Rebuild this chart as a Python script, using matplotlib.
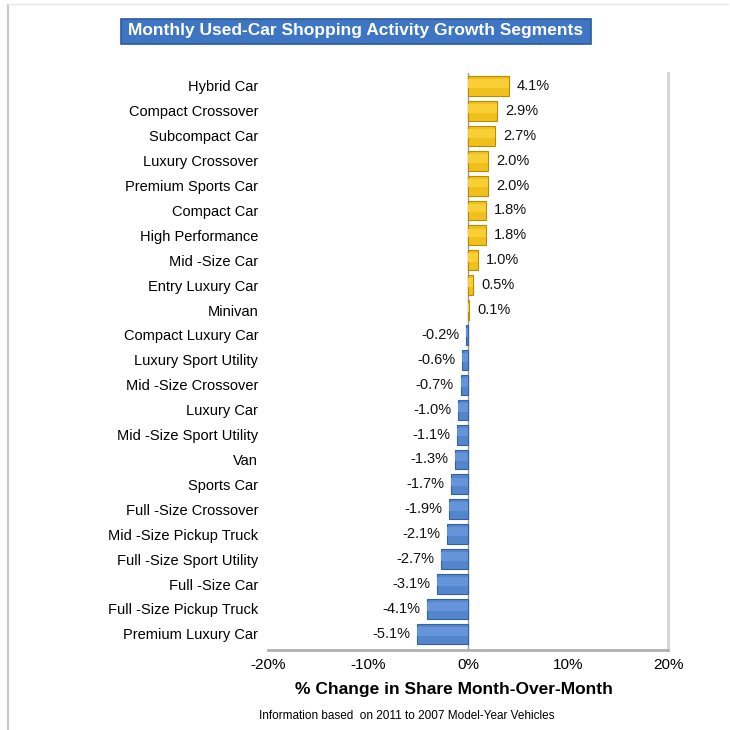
import matplotlib.pyplot as plt
from matplotlib.patches import FancyBboxPatch
from matplotlib.lines import Line2D

plt.rcParams['font.family'] = ['Liberation Sans', 'DejaVu Sans']

segments = ["Hybrid Car", "Compact Crossover", "Subcompact Car", "Luxury Crossover",
            "Premium Sports Car", "Compact Car", "High Performance", "Mid -Size Car",
            "Entry Luxury Car", "Minivan", "Compact Luxury Car", "Luxury Sport Utility",
            "Mid -Size Crossover", "Luxury Car", "Mid -Size Sport Utility", "Van",
            "Sports Car", "Full -Size Crossover", "Mid -Size Pickup Truck",
            "Full -Size Sport Utility", "Full -Size Car", "Full -Size Pickup Truck",
            "Premium Luxury Car"]
change = [4.1, 2.9, 2.7, 2.0, 2.0, 1.8, 1.8, 1.0, 0.5, 0.1, -0.2, -0.6, -0.7,
          -1.0, -1.1, -1.3, -1.7, -1.9, -2.1, -2.7, -3.1, -4.1, -5.1]
xticks = [-20, -10, 0, 10, 20]

fig = plt.figure(figsize=(7.3, 7.3), dpi=100)
ax = fig.add_axes([268/730, 80/730, 400/730, 577/730])

ypos = list(range(len(segments)))
colors = ["#F2C01C" if v >= 0 else "#5486CE" for v in change]
edges = ["#B88E00" if v >= 0 else "#35609F" for v in change]
ax.barh(ypos, change, height=0.8, color=colors, edgecolor=edges, linewidth=0.8, zorder=3)
# lighter band on the upper half, a cheap stand-in for the gradient
hl = ["#F8CF34" if v >= 0 else "#6595D8" for v in change]
ax.barh([y - 0.1 for y in ypos], change, height=0.35, color=hl, linewidth=0, zorder=4)

for y, v in zip(ypos, change):
    if v >= 0:
        ax.text(v + 0.8, y, f"{v:.1f}%", va="center", ha="left", fontsize=10.5, color="#111111")
    else:
        ax.text(v - 0.7, y, f"{v:.1f}%", va="center", ha="right", fontsize=10.5, color="#111111")

ax.set_xlim(-20, 20)
ax.set_ylim(22.65, -0.52)
ax.set_yticks(ypos)
ax.set_yticklabels(segments, fontsize=10.5)
ax.set_xticks(xticks)
ax.set_xticklabels([f"{t}%" for t in xticks], fontsize=11)
ax.tick_params(axis="y", length=0, pad=7)
ax.tick_params(axis="x", length=0, pad=6)
ax.axvline(0, color="#999999", lw=1, zorder=2)
for s in ["top", "left"]:
    ax.spines[s].set_visible(False)
ax.spines["right"].set_color("#d4d4d4")
ax.spines["right"].set_linewidth(2)
ax.spines["bottom"].set_color("#b0b0b0")
ax.spines["bottom"].set_linewidth(2)

ax.set_xlabel("% Change in Share Month-Over-Month", fontsize=12.5, fontweight="bold")
ax.xaxis.set_label_coords(0.465, -0.055)

# title box
tb = FancyBboxPatch((121/730, 1 - 44/730), 470/730, 25/730, boxstyle="square,pad=0",
                    transform=fig.transFigure, facecolor="#3F76C4", edgecolor="#2B5A9E",
                    linewidth=1.2)
fig.patches.append(tb)
fig.text(356/730, 1 - 31/730, "Monthly Used-Car Shopping Activity Growth Segments",
         ha="center", va="center", color="white", fontsize=12.5, fontweight="bold")

fig.text(407/730, 1 - 716/730, "Information based  on 2011 to 2007 Model-Year Vehicles",
         ha="center", va="center", fontsize=8.5)

# page frame lines
fig.add_artist(Line2D([8/730, 8/730], [0, 1 - 5/730], transform=fig.transFigure,
                      color="#c8c8c8", lw=1.5))
fig.add_artist(Line2D([8/730, 728/730], [1 - 4/730, 1 - 4/730], transform=fig.transFigure,
                      color="#e6e6e6", lw=1))

fig.savefig("out.png", dpi=100)
